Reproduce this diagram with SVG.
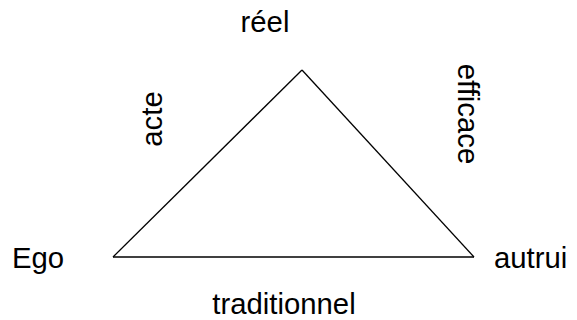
<svg xmlns="http://www.w3.org/2000/svg" width="577" height="320" viewBox="0 0 577 320">
<style>
text{font-family:"Liberation Sans",Arial,sans-serif;font-size:29.3px;fill:#000}
.edge{fill:none;stroke:#000;stroke-width:1.3}
</style>
<rect width="577" height="320" fill="#fff"/>
<g id="connectors">
<path class="edge" d="M302,70 L113,257"/>
<path class="edge" d="M302,70 L474,257"/>
<path class="edge" d="M113,257 L474,257"/>
</g>
<g id="node-reel"><text x="265" y="32" text-anchor="middle">réel</text></g>
<g id="node-ego"><text x="12" y="268">Ego</text></g>
<g id="node-autrui"><text x="494" y="268">autrui</text></g>
<g id="label-acte"><text transform="translate(162,119) rotate(-90)" text-anchor="middle">acte</text></g>
<g id="label-efficace"><text transform="translate(458,114) rotate(90)" text-anchor="middle">efficace</text></g>
<g id="label-traditionnel"><text x="284" y="313.5" text-anchor="middle">traditionnel</text></g>
</svg>
